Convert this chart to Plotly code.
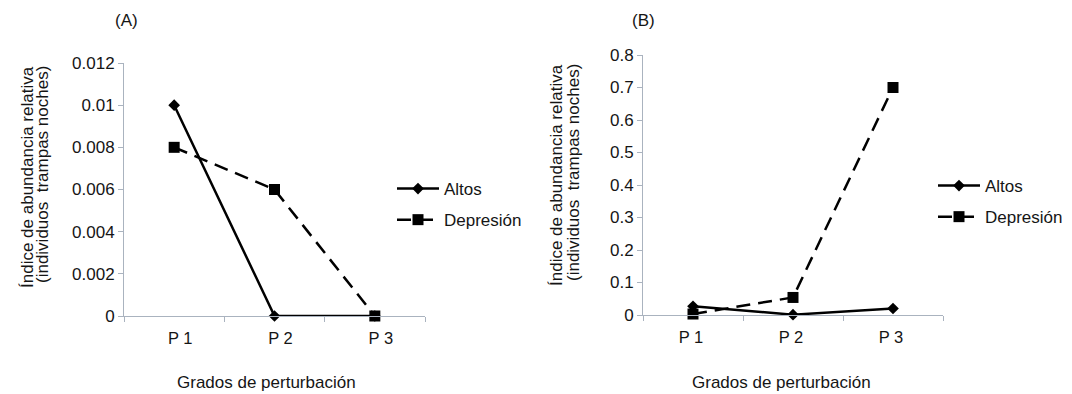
import plotly.graph_objects as go

# Categories (disturbance levels)
categorias = ["P 1", "P 2", "P 3"]

# Panel A values
altos_a = [0.010, 0.0, 0.0]
depresion_a = [0.008, 0.006, 0.0]
ticks_a = [0, 0.002, 0.004, 0.006, 0.008, 0.01, 0.012]
ticktext_a = ["0", "0.002", "0.004", "0.006", "0.008", "0.01", "0.012"]

# Panel B values
altos_b = [0.027, 0.001, 0.020]
depresion_b = [0.003, 0.054, 0.700]
ticks_b = [0, 0.1, 0.2, 0.3, 0.4, 0.5, 0.6, 0.7, 0.8]
ticktext_b = ["0", "0.1", "0.2", "0.3", "0.4", "0.5", "0.6", "0.7", "0.8"]

W, H = 1072, 394
FONT = "Liberation Sans, Arial, sans-serif"
TXT = "#151515"
AXC = "#aab3bf"

fig = go.Figure()

def add_panel(xa, ya, legend, altos, depresion, tag):
    fig.add_trace(go.Scatter(
        x=categorias, y=altos, name="Altos", mode="lines+markers",
        xaxis=xa, yaxis=ya, legend=legend, legendgroup=tag + "1",
        line=dict(color="black", width=2.5),
        marker=dict(symbol="diamond", size=9, color="black"),
        cliponaxis=False,
    ))
    fig.add_trace(go.Scatter(
        x=categorias, y=depresion, name="Depresión", mode="lines+markers",
        xaxis=xa, yaxis=ya, legend=legend, legendgroup=tag + "2",
        line=dict(color="black", width=2.5, dash="14px,8px"),
        marker=dict(symbol="square", size=11, color="black"),
        cliponaxis=False,
    ))

add_panel("x", "y", "legend", altos_a, depresion_a, "a")
add_panel("x2", "y2", "legend2", altos_b, depresion_b, "b")

xcommon = dict(
    type="category", range=[-0.5, 2.5], showline=True, linecolor=AXC, linewidth=1,
    ticks="outside", tickson="boundaries", ticklen=5, tickcolor=AXC,
    ticklabelstandoff=7,
    showgrid=False, zeroline=False, automargin=False,
    tickfont=dict(family=FONT, size=16.5, color=TXT), fixedrange=True,
)
ycommon = dict(
    showline=True, linecolor=AXC, linewidth=1, ticks="outside", ticklen=5,
    tickcolor=AXC, showgrid=False, zeroline=False, automargin=False,
    tickfont=dict(family=FONT, size=17, color=TXT), fixedrange=True,
)

legend_common = dict(
    xanchor="left", yanchor="top",
    font=dict(family=FONT, size=17, color=TXT), bgcolor="rgba(0,0,0,0)",
    tracegroupgap=6, itemwidth=42,
)

fig.update_layout(
    width=W, height=H, autosize=False,
    margin=dict(l=0, r=0, t=0, b=0, pad=0, autoexpand=False),
    paper_bgcolor="white", plot_bgcolor="white",
    font=dict(family=FONT, color=TXT),
    xaxis=dict(domain=[124 / W, 425 / W], anchor="y", ticklabelshift=6, **xcommon),
    yaxis=dict(domain=[1 - 316 / H, 1 - 63 / H], anchor="x", range=[0, 0.012],
               tickvals=ticks_a, ticktext=ticktext_a, **ycommon),
    xaxis2=dict(domain=[643 / W, 943 / W], anchor="y2", ticklabelshift=-2, **xcommon),
    yaxis2=dict(domain=[1 - 315 / H, 1 - 55 / H], anchor="x2", range=[0, 0.8],
                tickvals=ticks_b, ticktext=ticktext_b, **ycommon),
    legend=dict(x=392 / W, y=1 - 171 / H, **legend_common),
    legend2=dict(x=933 / W, y=1 - 168 / H, **legend_common),
    showlegend=True,
)

# Two-line y titles, one annotation per line for tight line spacing
ytitle_1 = "Índice de abundancia relativa"
ytitle_2 = "(individuos  trampas noches)"
for x1, x2, yc1, yc2 in [(27, 43, 177, 175), (557, 573, 175, 173)]:
    for txt, xc, yc in [(ytitle_1, x1, yc1), (ytitle_2, x2, yc2)]:
        fig.add_annotation(text=txt, x=xc / W, y=1 - yc / H, xref="paper", yref="paper",
                           textangle=-90, showarrow=False, xanchor="center", yanchor="middle",
                           font=dict(family=FONT, size=17, color=TXT))

xtitle = "Grados de perturbación"
for xc in [266, 781]:
    fig.add_annotation(text=xtitle, x=xc / W, y=1 - 382 / H, xref="paper", yref="paper",
                       showarrow=False, xanchor="center", yanchor="middle",
                       font=dict(family=FONT, size=17, color=TXT))
for lbl, xc in [("(A)", 126), ("(B)", 643)]:
    fig.add_annotation(text=lbl, x=xc / W, y=1 - 20 / H, xref="paper", yref="paper",
                       showarrow=False, xanchor="center", yanchor="middle",
                       font=dict(family=FONT, size=17, color=TXT))

fig.write_html("out.html", config={"responsive": False, "displayModeBar": False})
